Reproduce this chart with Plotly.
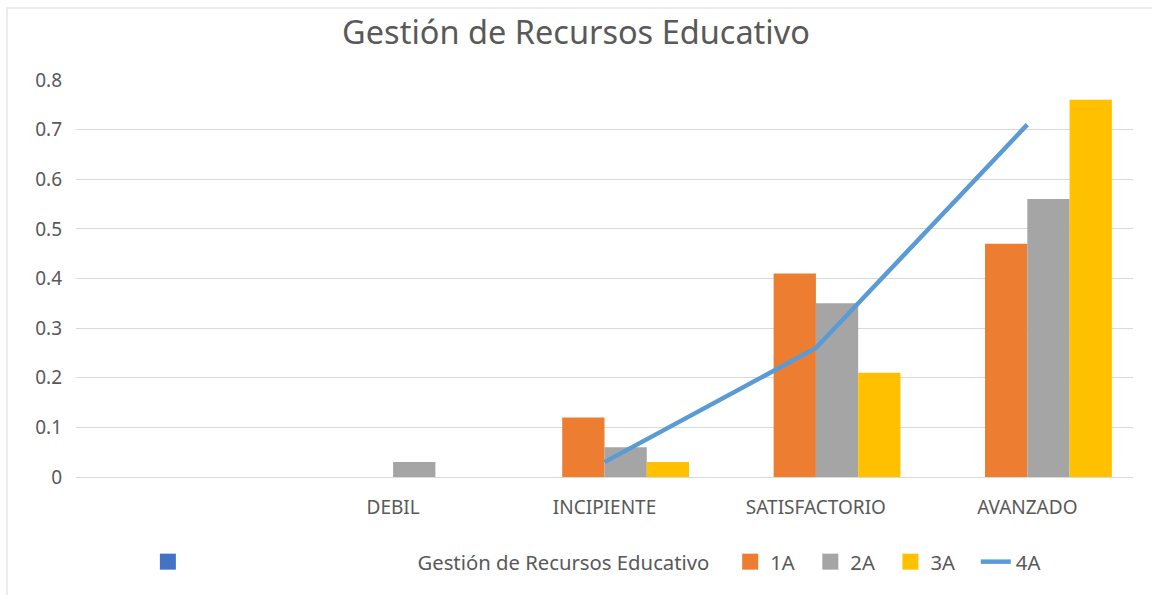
import plotly.graph_objects as go

categories = [" ", "DEBIL", "INCIPIENTE", "SATISFACTORIO", "AVANZADO"]
s1A = [None, 0, 0.12, 0.41, 0.47]
s2A = [None, 0.03, 0.06, 0.35, 0.56]
s3A = [None, 0, 0.03, 0.21, 0.76]
s4A = [None, None, 0.03, 0.26, 0.71]
y_ticks = [0, 0.1, 0.2, 0.3, 0.4, 0.5, 0.6, 0.7, 0.8]
y_labels = ["0", "0.1", "0.2", "0.3", "0.4", "0.5", "0.6", "0.7", "0.8"]

FONT = "Noto Sans"
TXT = "#595959"
NB = "\u00a0"
C1, C2, C3, C4, C0 = "#ED7D31", "#A5A5A5", "#FFC000", "#5B9BD5", "#4472C4"
empty = [None] * len(categories)

fig = go.Figure()
# empty first series occupies the first slot of each group (as in the original)
fig.add_trace(go.Bar(x=categories, y=empty, name="serie", marker_color=C0,
                     showlegend=False, legendgroup="s0"))
fig.add_trace(go.Bar(x=categories, y=s1A, name="1A", marker_color=C1, marker_line_width=0,
                     showlegend=False, legendgroup="1A"))
fig.add_trace(go.Bar(x=categories, y=s2A, name="2A", marker_color=C2, marker_line_width=0,
                     showlegend=False, legendgroup="2A"))
fig.add_trace(go.Bar(x=categories, y=s3A, name="3A", marker_color=C3, marker_line_width=0,
                     showlegend=False, legendgroup="3A"))

# legend entries
def sq(name, color, group=None):
    return go.Scatter(x=categories, y=empty, name=name, mode="markers",
                      marker=dict(symbol="square", size=16, color=color),
                      legendgroup=group, showlegend=True, hoverinfo="skip")

fig.add_trace(sq(NB * 35, C0, "s0"))
fig.add_trace(go.Scatter(x=categories, y=empty, name="Gestión de Recursos Educativo" + NB * 3,
                         mode="lines", line=dict(color="rgba(0,0,0,0)", width=0),
                         hoverinfo="skip"))
fig.add_trace(sq("1A" + NB * 2, C1, "1A"))
fig.add_trace(sq("2A" + NB * 2, C2, "2A"))
fig.add_trace(sq("3A" + NB * 3, C3, "3A"))
fig.add_trace(go.Scatter(x=categories, y=s4A, name="4A", mode="lines",
                         line=dict(color=C4, width=4.5)))

fig.update_layout(
    width=1152, height=595,
    margin=dict(l=76, r=19, t=80, b=118),
    paper_bgcolor="white", plot_bgcolor="white",
    barmode="group", bargap=0.2, bargroupgap=0,
    title=dict(text="Gestión de Recursos Educativo", x=0.5, xanchor="center",
               y=0.945, yanchor="middle",
               font=dict(family=FONT, size=32.5, color=TXT)),
    font=dict(family=FONT, size=19, color=TXT),
    xaxis=dict(type="category", categoryorder="array", categoryarray=categories,
               showgrid=False, showline=False, ticks="", ticklabelstandoff=17,
               tickfont=dict(family=FONT, size=19, color=TXT)),
    yaxis=dict(range=[0, 0.8], tickvals=y_ticks, ticktext=y_labels,
               showgrid=True, gridcolor="#D9D9D9", gridwidth=1,
               zeroline=True, zerolinecolor="#D9D9D9", zerolinewidth=1,
               showline=False, ticks="", ticklabelstandoff=13,
               tickfont=dict(family=FONT, size=19, color=TXT)),
    legend=dict(orientation="h", x=0.068, xanchor="left", y=-0.214, yanchor="middle",
                font=dict(family=FONT, size=20.3, color=TXT), traceorder="normal",
                itemsizing="trace"),
    shapes=[dict(type="rect", xref="paper", yref="paper",
                 x0=(7 - 76) / 1057, x1=1.05, y0=-0.5, y1=(477 - 8) / 397,
                 line=dict(color="#E6E6E6", width=1.5), fillcolor="rgba(0,0,0,0)",
                 layer="below")],
)

fig.write_html("out.html", config={"displayModeBar": False},
               post_script="document.body.style.margin='0';")
